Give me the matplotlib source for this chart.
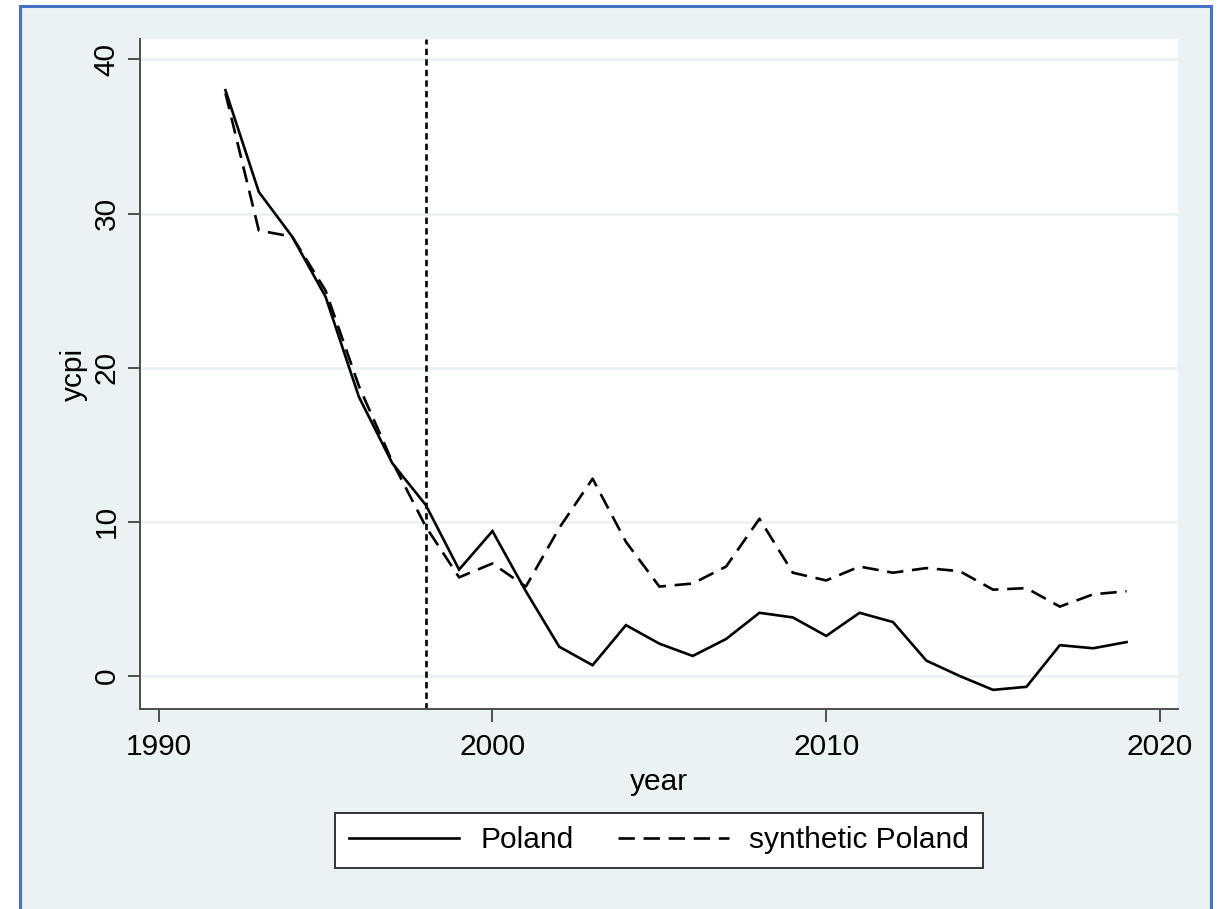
import matplotlib
matplotlib.use("Agg")
import matplotlib.pyplot as plt
from matplotlib.patches import Rectangle

plt.rcParams['font.family'] = ['Liberation Sans', 'DejaVu Sans']

# Annual CPI inflation, Poland vs. its synthetic control
years = list(range(1992, 2020))
poland = [38.0, 31.4, 28.5, 24.6, 18.1, 13.8, 11.1, 6.9, 9.4, 5.5,
          1.9, 0.7, 3.3, 2.1, 1.3, 2.4, 4.1, 3.8, 2.6, 4.1,
          3.5, 1.0, 0.0, -0.9, -0.7, 2.0, 1.8, 2.2]
synthetic = [37.8, 28.9, 28.5, 25.0, 18.8, 13.9, 9.7, 6.4, 7.3, 5.8,
             9.6, 12.8, 8.7, 5.8, 6.0, 7.1, 10.2, 6.7, 6.2, 7.1,
             6.7, 7.0, 6.8, 5.6, 5.7, 4.5, 5.3, 5.5]
treatment_year = 1998
xticks = [1990, 2000, 2010, 2020]
yticks = [0, 10, 20, 30, 40]

W, H = 1223, 909
bg = '#EAF2F3'
axis_col = '#4d4d4d'

fig = plt.figure(figsize=(W / 100, H / 100), dpi=100, facecolor='white')

# light graph region with a blue frame (kept behind the axes)
fig.patches.append(Rectangle((20 / W, -0.05), (1211 - 20) / W, 1.05 - 6 / H,
                             transform=fig.transFigure, facecolor=bg,
                             edgecolor='#4472C4', linewidth=2.2, zorder=-10))

ax = fig.add_axes([140 / W, (H - 709) / H, (1178 - 140) / W, (709 - 39) / H])
ax.set_facecolor('white')

ax.plot(years, poland, color='black', lw=1.9, label='Poland',
        solid_joinstyle='miter')
ax.plot(years, synthetic, color='black', lw=1.9, ls=(0, (6.2, 3.3)),
        label='synthetic Poland')
ax.axvline(treatment_year, color='black', lw=1.9, ls=(0, (2.4, 1.6)))

ax.set_xlim(1989.44, 2020.54)
ax.set_ylim(-2.14, 41.32)
ax.set_xticks(xticks)
ax.set_yticks(yticks)
ax.yaxis.grid(True, color=bg, lw=2)
ax.set_axisbelow(True)

for side in ['top', 'right']:
    ax.spines[side].set_visible(False)
for side in ['left', 'bottom']:
    ax.spines[side].set_color(axis_col)
    ax.spines[side].set_linewidth(1.4)

ax.tick_params(axis='both', direction='out', length=9, width=1.4,
               color=axis_col, labelsize=21.5, labelcolor='black')
ax.tick_params(axis='x', pad=8)
ax.tick_params(axis='y', pad=5)
for lab in ax.get_yticklabels():
    lab.set_rotation(90)
    lab.set_va('center')

ax.set_xlabel('year', fontsize=21.5, labelpad=5)
ax.set_ylabel('ycpi', fontsize=21.5)
ax.yaxis.set_label_coords(-0.050, 0.5)

leg = fig.legend(loc='center', bbox_to_anchor=(659 / W, 1 - 840.5 / H),
                 ncol=2, fontsize=21.5, frameon=True, fancybox=False,
                 handlelength=3.7, handletextpad=0.7, columnspacing=1.5,
                 borderpad=0.45)
frame = leg.get_frame()
frame.set_edgecolor('#333333')
frame.set_linewidth(1.4)
frame.set_facecolor('white')
frame.set_alpha(1)

fig.savefig('out.png', dpi=100, facecolor='white')
